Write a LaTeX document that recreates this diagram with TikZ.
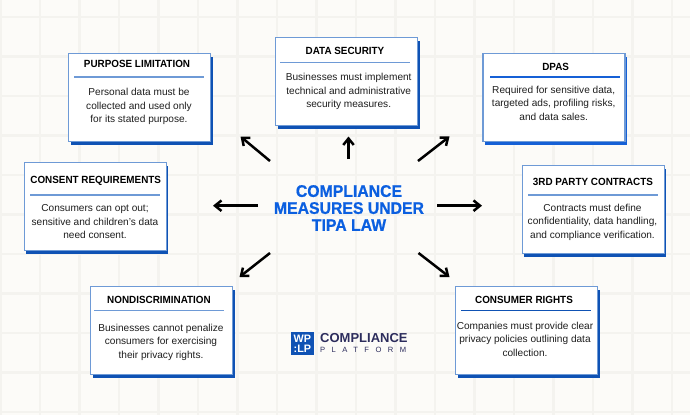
\documentclass[tikz,border=0pt]{standalone}
\usepackage{fontspec}
\setmainfont{Liberation Sans}
\newfontfamily\spreadfont[LetterSpace=85]{Liberation Sans}
\newfontfamily\tightfont[FakeStretch=0.95]{Liberation Sans}
\newfontfamily\headfont[FakeStretch=0.94,BoldFeatures={FakeBold=0.8}]{Liberation Sans}
\usetikzlibrary{arrows.meta,shadows}

\definecolor{paper}{HTML}{FCFBF8}
\definecolor{gridline}{HTML}{F4F3EF}
\definecolor{edgeblue}{HTML}{6E9AD6}
\definecolor{shadeblue}{HTML}{0F52B4}
\definecolor{brightblue}{HTML}{1560D6}
\definecolor{headblue}{HTML}{0B5FE0}
\definecolor{inkgray}{HTML}{1E1E1E}
\definecolor{logonavy}{HTML}{2C2C5C}

\tikzset{
    card/.style={
        draw=edgeblue,
        line width=1.2pt,
        fill=white,
        rectangle,
        anchor=north west,
        minimum width=142pt,
        minimum height=88pt,
        copy shadow={shadow xshift=2pt,shadow yshift=-3pt,fill=#1,draw=none}
    },
    card/.default=shadeblue,
    cardtitle/.style={
        font=\tightfont\bfseries\fontsize{10.4}{12}\selectfont,
        text=black,
        inner sep=0pt
    },
    cardtext/.style={
        font=\fontsize{10.1}{13.5}\selectfont,
        text=inkgray,
        align=center,
        inner sep=0pt
    },
    cardrule/.style={draw=#1,line width=1.1pt},
    cardrule/.default=edgeblue,
    flow/.style={
        draw=black,
        line width=2.5pt,
        -{Straight Barb[length=6.5pt,width=10.5pt,line width=2.5pt]}
    }
}

\begin{document}
\begin{tikzpicture}[x=1pt,y=-1pt]

    % Paper and its grid.
    \fill[paper] (0,0) rectangle (690,415);
    \useasboundingbox (0,0) rectangle (690,415);
    \foreach \gridx in {0,...,17}
        \draw[gridline,line width=2.2pt] (0.5+39.5*\gridx,0) -- (0.5+39.5*\gridx,415);
    \foreach \gridy in {0,...,10}
        \draw[gridline,line width=2.2pt] (0,17+39.5*\gridy) -- (690,17+39.5*\gridy);

    % Middle heading.
    \node[font=\headfont\bfseries\fontsize{16.8}{17}\selectfont,text=headblue,align=center,inner sep=0pt]
        (heading) at (349,208) {COMPLIANCE\\MEASURES UNDER\\TIPA LAW};

    % Purpose limitation
    \node[card] (purpose) at (68,53) {};
    \node[cardtitle] (purposetitle) at (137,63.5) {PURPOSE LIMITATION};
    \draw[cardrule] (74,77) -- (204,77);
    \node[cardtext] (purposetext) at (139,106.7) {Personal data must be\\collected and used only\\for its stated purpose.};

    % Data security
    \node[card] (security) at (275,37) {};
    \node[cardtitle] (securitytitle) at (345,50.5) {DATA SECURITY};
    \draw[cardrule] (280,62.7) -- (410,62.7);
    \node[cardtext] (securitytext) at (348.7,91.7) {Businesses must implement\\technical and administrative\\security measures.};

    % DPAs
    \node[card=brightblue] (dpas) at (482.3,53) {};
    \node[cardtitle] (dpastitle) at (555.7,66.5) {DPAS};
    \draw[cardrule=brightblue] (490.3,77) -- (620.3,77);
    \node[cardtext] (dpastext) at (553.7,103.3) {Required for sensitive data,\\targeted ads, profiling risks,\\and data sales.};

    % Consent requirements
    \node[card] (consent) at (23.5,162) {};
    \node[cardtitle] (consenttitle) at (95.7,180.5) {CONSENT REQUIREMENTS};
    \draw[cardrule] (30,195) -- (160,195);
    \node[cardtext] (consenttext) at (95,222) {Consumers can opt out;\\sensitive and children's data\\need consent.};

    % Third party contracts
    \node[card] (contracts) at (521.5,165) {};
    \node[cardtitle] (contractstitle) at (593,181.5) {3RD PARTY CONTRACTS};
    \draw[cardrule] (528,195) -- (658,195);
    \node[cardtext] (contractstext) at (592.5,222) {Contracts must define\\confidentiality, data handling,\\and compliance verification.};

    % Nondiscrimination
    \node[card] (nondisc) at (90,286) {};
    \node[cardtitle] (nondisctitle) at (159,299.5) {NONDISCRIMINATION};
    \draw[cardrule] (94,310.7) -- (224,310.7);
    \node[cardtext] (nondisctext) at (161,342) {Businesses cannot penalize\\consumers for exercising\\their privacy rights.};

    % Consumer rights
    \node[card] (rights) at (455,286) {};
    \node[cardtitle] (rightstitle) at (524,299.5) {CONSUMER RIGHTS};
    \draw[cardrule=shadeblue] (461,310.3) -- (591,310.3);
    \node[cardtext] (rightstext) at (525,339.3) {Companies must provide clear\\privacy policies outlining data\\collection.};

    % Arrow ends around the heading.
    \coordinate (purposefrom) at (270,161);
    \coordinate (purposeto) at (240.5,136.5);
    \coordinate (securityfrom) at (348.5,159);
    \coordinate (securityto) at (348.5,136.5);
    \coordinate (dpasfrom) at (418,161);
    \coordinate (dpasto) at (449.5,136.5);
    \coordinate (consentfrom) at (258,205.7);
    \coordinate (consentto) at (213,205.7);
    \coordinate (contractsfrom) at (437,205.7);
    \coordinate (contractsto) at (482,205.7);
    \coordinate (nondiscfrom) at (270,253);
    \coordinate (nondiscto) at (239.5,277);
    \coordinate (rightsfrom) at (418.5,253);
    \coordinate (rightsto) at (449.5,277);

    \foreach \arrowname in {purpose,security,dpas,consent,contracts,nondisc,rights}
        \draw[flow] (\arrowname from) -- (\arrowname to);

    % Logo.
    \node[fill=shadeblue,minimum size=23pt,inner sep=0pt,anchor=north west] (logomark) at (290.7,332) {};
    \node[text=white,font=\bfseries\fontsize{10.8}{10.8}\selectfont,align=center,inner sep=0pt]
        (logoletters) at (logomark.center) {WP\\:LP};
    \node[text=logonavy,font=\bfseries\fontsize{13}{13}\selectfont,anchor=west,inner sep=0pt]
        (logoname) at (320,338) {COMPLIANCE};
    \node[text=logonavy,font=\spreadfont\fontsize{7.6}{8}\selectfont,anchor=west,inner sep=0pt]
        (logoplatform) at (320,350) {PLATFORM};

\end{tikzpicture}
\end{document}
